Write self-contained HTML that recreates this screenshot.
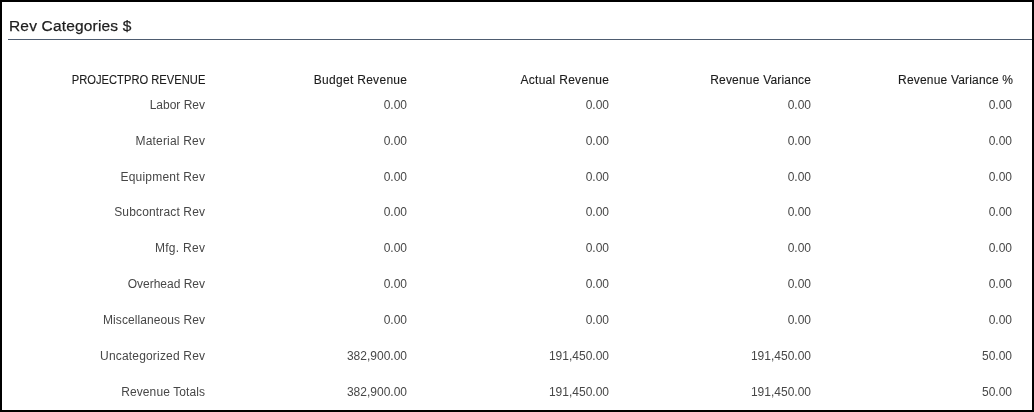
<!DOCTYPE html>
<html><head><meta charset="utf-8">
<style>
html,body{margin:0;padding:0;background:#fff;}
body{will-change:transform;width:1034px;height:412px;position:relative;overflow:hidden;font-family:"Liberation Sans",sans-serif;}
.frame{position:absolute;left:0;top:0;width:1030px;height:408px;border:2px solid #000;}
.title{position:absolute;left:9px;top:16.6px;font-size:15.5px;color:#1e1e1e;line-height:18px;white-space:nowrap;letter-spacing:0.17px;-webkit-text-stroke:0.25px #1e1e1e;}
.rule{position:absolute;left:8px;top:39px;width:1024px;height:1px;background:#4e5c70;}
.c{position:absolute;white-space:nowrap;text-align:right;font-size:12px;line-height:14px;}
.d{color:#474747;}
.h{color:#1c1c1c;-webkit-text-stroke:0.12px #1c1c1c;}

</style></head><body>
<div class="frame"></div>
<div class="title">Rev Categories $</div>
<div class="rule"></div>
<div class="c h" style="right:829.00px;top:73px;transform:scaleX(0.932);transform-origin:100% 50%">PROJECTPRO REVENUE</div>
<div class="c h" style="right:626.70px;top:73px;letter-spacing:0.3px">Budget Revenue</div>
<div class="c h" style="right:424.70px;top:73px;letter-spacing:0.3px">Actual Revenue</div>
<div class="c h" style="right:222.80px;top:73px;letter-spacing:0.2px">Revenue Variance</div>
<div class="c h" style="right:20.82px;top:73px;letter-spacing:0.18px">Revenue Variance %</div>
<div class="c d" style="right:829.00px;top:98px">Labor Rev</div>
<div class="c d" style="right:627.00px;top:98px">0.00</div>
<div class="c d" style="right:425.00px;top:98px">0.00</div>
<div class="c d" style="right:223.00px;top:98px">0.00</div>
<div class="c d" style="right:22.00px;top:98px">0.00</div>
<div class="c d" style="right:828.80px;top:134px;letter-spacing:0.2px">Material Rev</div>
<div class="c d" style="right:627.00px;top:134px">0.00</div>
<div class="c d" style="right:425.00px;top:134px">0.00</div>
<div class="c d" style="right:223.00px;top:134px">0.00</div>
<div class="c d" style="right:22.00px;top:134px">0.00</div>
<div class="c d" style="right:828.80px;top:170px;letter-spacing:0.2px">Equipment Rev</div>
<div class="c d" style="right:627.00px;top:170px">0.00</div>
<div class="c d" style="right:425.00px;top:170px">0.00</div>
<div class="c d" style="right:223.00px;top:170px">0.00</div>
<div class="c d" style="right:22.00px;top:170px">0.00</div>
<div class="c d" style="right:828.85px;top:205px;letter-spacing:0.15px">Subcontract Rev</div>
<div class="c d" style="right:627.00px;top:205px">0.00</div>
<div class="c d" style="right:425.00px;top:205px">0.00</div>
<div class="c d" style="right:223.00px;top:205px">0.00</div>
<div class="c d" style="right:22.00px;top:205px">0.00</div>
<div class="c d" style="right:828.70px;top:241px;letter-spacing:0.3px">Mfg. Rev</div>
<div class="c d" style="right:627.00px;top:241px">0.00</div>
<div class="c d" style="right:425.00px;top:241px">0.00</div>
<div class="c d" style="right:223.00px;top:241px">0.00</div>
<div class="c d" style="right:22.00px;top:241px">0.00</div>
<div class="c d" style="right:829.00px;top:277px">Overhead Rev</div>
<div class="c d" style="right:627.00px;top:277px">0.00</div>
<div class="c d" style="right:425.00px;top:277px">0.00</div>
<div class="c d" style="right:223.00px;top:277px">0.00</div>
<div class="c d" style="right:22.00px;top:277px">0.00</div>
<div class="c d" style="right:828.92px;top:313px;letter-spacing:0.08px">Miscellaneous Rev</div>
<div class="c d" style="right:627.00px;top:313px">0.00</div>
<div class="c d" style="right:425.00px;top:313px">0.00</div>
<div class="c d" style="right:223.00px;top:313px">0.00</div>
<div class="c d" style="right:22.00px;top:313px">0.00</div>
<div class="c d" style="right:828.82px;top:349px;letter-spacing:0.18px">Uncategorized Rev</div>
<div class="c d" style="right:627.00px;top:349px">382,900.00</div>
<div class="c d" style="right:425.00px;top:349px">191,450.00</div>
<div class="c d" style="right:223.00px;top:349px">191,450.00</div>
<div class="c d" style="right:22.00px;top:349px">50.00</div>
<div class="c d" style="right:828.90px;top:385px;letter-spacing:0.1px">Revenue Totals</div>
<div class="c d" style="right:627.00px;top:385px">382,900.00</div>
<div class="c d" style="right:425.00px;top:385px">191,450.00</div>
<div class="c d" style="right:223.00px;top:385px">191,450.00</div>
<div class="c d" style="right:22.00px;top:385px">50.00</div>
</body></html>
